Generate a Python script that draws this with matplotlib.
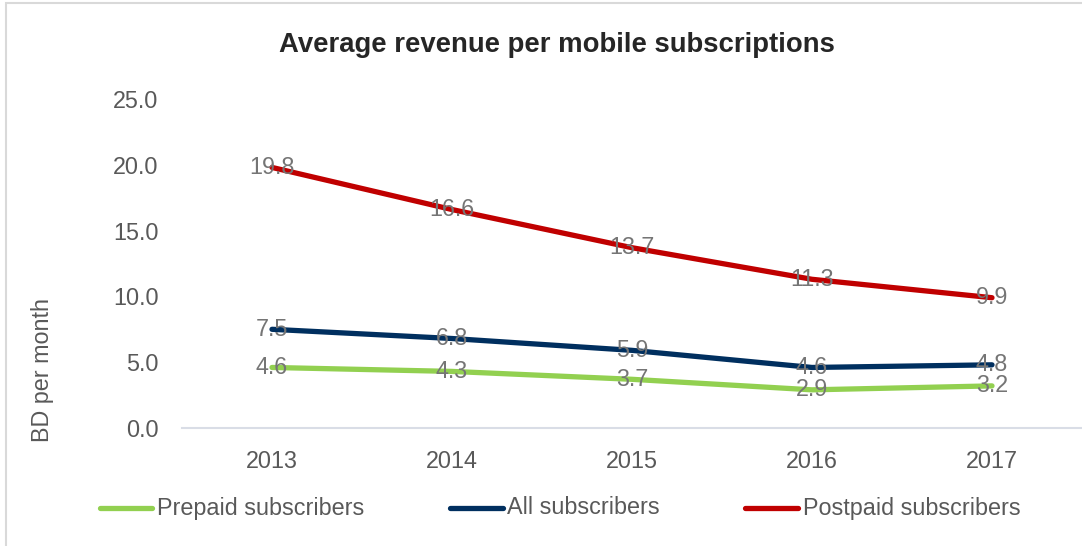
import matplotlib
matplotlib.use("Agg")
import matplotlib.pyplot as plt
from matplotlib.patches import Rectangle
from matplotlib.lines import Line2D

years = ["2013", "2014", "2015", "2016", "2017"]
prepaid = [4.6, 4.3, 3.7, 2.9, 3.2]
all_subs = [7.5, 6.8, 5.9, 4.6, 4.8]
postpaid = [19.8, 16.6, 13.7, 11.3, 9.9]
series_names = ["Prepaid subscribers", "All subscribers", "Postpaid subscribers"]
colors = ["#92d050", "#002f5f", "#c00000"]
yticks = [0, 5, 10, 15, 20, 25]

plt.rcParams['font.family'] = ['Liberation Sans', 'DejaVu Sans']

W, H = 1082, 546
FS = 16.8
fig = plt.figure(figsize=(W/100, H/100), dpi=100)
ax = fig.add_axes([182/W, 1-428/H, (1082-182)/W, (428-99)/H])

x = list(range(len(years)))
for vals, col in zip([prepaid, all_subs, postpaid], colors):
    ax.plot(x, vals, color=col, lw=3.8, solid_capstyle='round', zorder=2)
    for xi, v in zip(x, vals):
        ax.text(xi, v, f"{v:.1f}", ha='center', va='center', fontsize=FS,
                color='#757575', zorder=3)

ax.set_xlim(-0.5, len(years)-0.5)
ax.set_ylim(0, 25)
ax.set_yticks(yticks)
ax.set_yticklabels([f"{t:.1f}" for t in yticks])
ax.set_xticks(x)
ax.set_xticklabels(years)
ax.tick_params(axis='both', length=0, labelsize=FS, labelcolor='#595959')
ax.tick_params(axis='y', pad=17)
ax.tick_params(axis='x', pad=16)
for s in ['top', 'right', 'left']:
    ax.spines[s].set_visible(False)
ax.spines['bottom'].set_color('#d9dde6')
ax.spines['bottom'].set_linewidth(1.5)

fig.text(557/W, 1-45/H, "Average revenue per mobile subscriptions", ha='center', va='center',
         fontsize=19.8, fontweight='bold', color='#262626')
fig.text(42/W, 1-370/H, "BD per month", rotation=90, ha='center', va='center',
         fontsize=FS, color='#595959')

# legend drawn manually
leg_y = 1-508/H
for (x0, x1, tx), name, col in zip([(100, 152, 157), (450, 503, 507), (745, 798, 803)],
                                   series_names, colors):
    fig.add_artist(Line2D([x0/W, x1/W], [leg_y, leg_y], color=col, lw=3.8,
                          solid_capstyle='round', transform=fig.transFigure))
    fig.text(tx/W, leg_y, name, ha='left', va='center', fontsize=FS, color='#595959')

# chart frame
fig.add_artist(Rectangle((6/W, -0.1), 1.2, 1.1-3/H, transform=fig.transFigure,
                         fill=False, edgecolor='#d9d9d9', lw=1.5))

fig.savefig("out.png", dpi=100)
